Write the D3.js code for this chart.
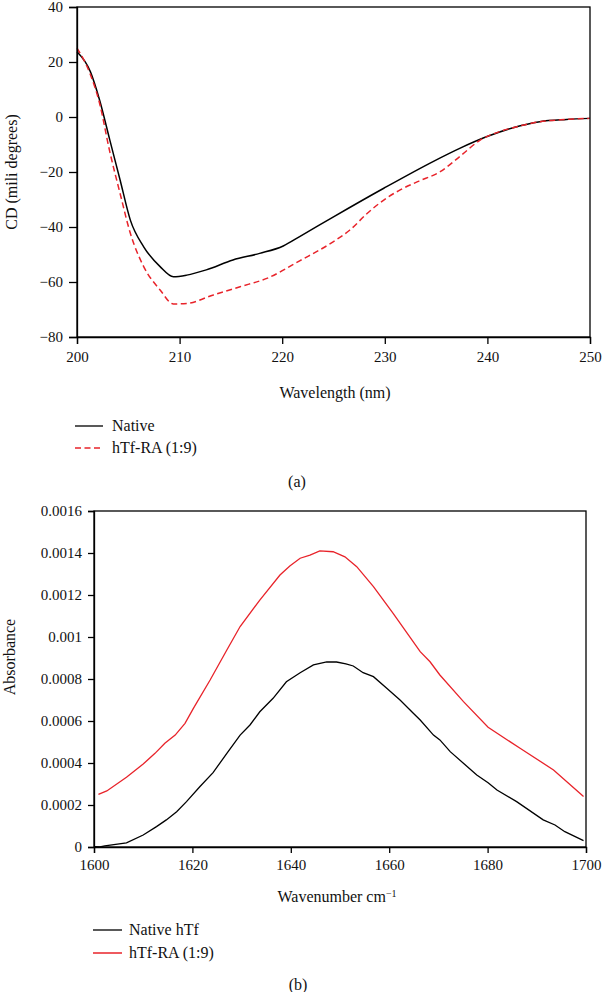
<!DOCTYPE html>
<html>
<head>
<meta charset="utf-8">
<script src="https://cdn.jsdelivr.net/npm/d3@7"></script>
<style>
  body { margin: 0; background: #fff; }
  svg { display: block; font-family: "Liberation Serif", "DejaVu Serif", serif; }
  svg text { font-family: "Liberation Serif", "DejaVu Serif", serif; }
</style>
</head>
<body>
<svg id="chart" width="602" height="992"></svg>
<script>
// ---------- Data: panel (a) CD spectra ----------
const cdWavelength = [200, 201.3, 202.2, 203.2, 204.2, 205.2, 206.5, 208.1, 209.4, 210.7, 212.6, 215.2, 217.8, 220.1, 221.7, 225, 229.9, 234.7, 237.3, 239.9, 242.5, 245.1, 247.7, 250];
const cdNative    = [23.7, 16.5, 6.2, -8.4, -22.9, -37.5, -47.2, -54.4, -58.1, -57.5, -55.6, -52, -49.6, -46.9, -43.5, -36.3, -25.9, -16.2, -11.4, -7.2, -3.9, -1.7, -0.9, -0.5];
const cdRAWavelength = [200, 201.3, 202.2, 203.2, 204.2, 205.2, 206.5, 208.1, 209.4, 210.7, 213.3, 215.9, 218.5, 221.7, 225, 226.6, 228.3, 229.9, 231.5, 233.2, 235.4, 237.3, 239.3, 241.2, 242.5, 245.1, 247.7, 250];
const cdRA        = [25, 15.5, 5, -12.7, -27.8, -42.3, -54.4, -62.9, -68, -67.8, -64.7, -61.7, -58.7, -52.3, -45.3, -41.1, -35, -30.2, -26.5, -23.5, -19.9, -14.4, -8.4, -5.3, -3.9, -1.7, -0.9, -0.5];
const cdXTicks = [200, 210, 220, 230, 240, 250];
const cdYTicks = [-80, -60, -40, -20, 0, 20, 40];
const cdLegend = ["Native", "hTf-RA (1:9)"];

// ---------- Data: panel (b) FTIR absorbance ----------
const irWavenumberNative = [1600, 1601.2, 1602.2, 1606.6, 1610, 1612.7, 1614.7, 1616.8, 1618.8, 1621.5, 1624.2, 1627, 1629.7, 1631.7, 1633.7, 1636.4, 1639.1, 1641.9, 1644.6, 1647.3, 1649.3, 1651.2, 1652.7, 1654.7, 1656.8, 1659.5, 1662.2, 1664.9, 1666.3, 1669, 1670.3, 1672.4, 1677.8, 1680.1, 1681.9, 1685.9, 1691.3, 1693.7, 1695.7, 1699.5];
const irNative = [0.000002, 0, 0.000005, 0.00002, 0.000057, 0.000097, 0.000129, 0.000168, 0.000216, 0.000287, 0.000354, 0.000446, 0.000533, 0.000581, 0.000644, 0.000708, 0.000787, 0.00083, 0.000867, 0.000881, 0.000881, 0.000872, 0.000862, 0.00083, 0.000811, 0.000756, 0.0007, 0.000637, 0.000605, 0.000533, 0.00051, 0.000454, 0.000343, 0.000306, 0.000271, 0.000216, 0.000129, 0.000105, 0.000073, 0.00003];
const irWavenumberRA = [1600.9, 1602.6, 1606.6, 1610, 1612.4, 1614.4, 1616.5, 1618.5, 1620.2, 1623.6, 1627, 1629.7, 1633.7, 1637.8, 1639.8, 1641.9, 1643.9, 1645.9, 1648.6, 1651, 1653.4, 1656.8, 1660.8, 1666.3, 1668.3, 1670.3, 1675.1, 1680.1, 1686.6, 1693.4, 1699.5];
const irRA = [0.000251, 0.000267, 0.000332, 0.000395, 0.000446, 0.000494, 0.000533, 0.000589, 0.00066, 0.000795, 0.000938, 0.00105, 0.001176, 0.001295, 0.001338, 0.001375, 0.00139, 0.00141, 0.001406, 0.001382, 0.001335, 0.00124, 0.001113, 0.00093, 0.000882, 0.000819, 0.000692, 0.00057, 0.00047, 0.000367, 0.00024];
const irXTicks = [1600, 1620, 1640, 1660, 1680, 1700];
const irYTicks = [0, 0.0002, 0.0004, 0.0006, 0.0008, 0.001, 0.0012, 0.0014, 0.0016];
const irYTickLabels = ["0", "0.0002", "0.0004", "0.0006", "0.0008", "0.001", "0.0012", "0.0014", "0.0016"];
const irLegend = ["Native hTf", "hTf-RA (1:9)"];

const RED = "#e8232a";
const svg = d3.select("#chart");
const FS = 15;     // tick labels
const FT = 16;     // titles / legend

// ================= Panel (a) =================
{
  const L = 77, T = 7, W = 513, H = 330;
  const x = d3.scaleLinear().domain([200, 250]).range([L, L + W]);
  const y = d3.scaleLinear().domain([-80, 40]).range([T + H, T]);
  const g = svg.append("g");

  const line = d3.line().curve(d3.curveMonotoneX);
  g.append("path")
    .attr("d", line.x(d => x(d[0])).y(d => y(d[1]))(cdWavelength.map((w, i) => [w, cdNative[i]])))
    .attr("fill", "none").attr("stroke", "#000").attr("stroke-width", 1.5);
  g.append("path")
    .attr("d", line.x(d => x(d[0])).y(d => y(d[1]))(cdRAWavelength.map((w, i) => [w, cdRA[i]])))
    .attr("fill", "none").attr("stroke", RED).attr("stroke-width", 1.5).attr("stroke-dasharray", "6,3.5");

  g.append("rect").attr("x", L).attr("y", T).attr("width", W).attr("height", H)
    .attr("fill", "none").attr("stroke", "#000").attr("stroke-width", 1.3);

  const xa = g.append("g").attr("transform", `translate(0,${T + H})`)
    .call(d3.axisBottom(x).tickValues(cdXTicks).tickSize(7).tickPadding(7).tickFormat(d3.format("d")));
  const ya = g.append("g").attr("transform", `translate(${L},0)`)
    .call(d3.axisLeft(y).tickValues(cdYTicks).tickSize(8).tickPadding(6).tickFormat(d => d < 0 ? "\u2212" + Math.abs(d) : String(d)));
  [xa, ya].forEach(a => {
    a.attr("font-family", null);
    a.select(".domain").attr("stroke-width", 1.3);
    a.selectAll(".tick line").attr("stroke-width", 1.3);
    a.selectAll("text").attr("font-size", FS).attr("fill", "#111");
  });

  g.append("text").attr("x", 335).attr("y", 398).attr("text-anchor", "middle")
    .attr("font-size", FT).attr("fill", "#111").text("Wavelength (nm)");
  g.append("text").attr("transform", "translate(17,172) rotate(-90)").attr("text-anchor", "middle")
    .attr("font-size", FT).attr("fill", "#111").text("CD (mili degrees)");

  cdLegend.forEach((name, i) => {
    const ly = 426 + i * 22;
    g.append("line").attr("x1", 75).attr("x2", 103).attr("y1", ly).attr("y2", ly)
      .attr("stroke", i === 0 ? "#222" : RED).attr("stroke-width", 1.5)
      .attr("stroke-dasharray", i === 0 ? null : "6,3.5");
    g.append("text").attr("x", 112).attr("y", ly + 5).attr("font-size", FT).attr("fill", "#111").text(name);
  });

  g.append("text").attr("x", 297).attr("y", 487).attr("text-anchor", "middle")
    .attr("font-size", FT).attr("fill", "#111").text("(a)");
}

// ================= Panel (b) =================
{
  const L = 94, T = 511, W = 492, H = 336;
  const x = d3.scaleLinear().domain([1600, 1700]).range([L, L + W]);
  const y = d3.scaleLinear().domain([0, 0.0016]).range([T + H, T]);
  const g = svg.append("g");

  const line = d3.line().x(d => x(d[0])).y(d => y(d[1]));
  g.append("path")
    .attr("d", line(irWavenumberRA.map((w, i) => [w, irRA[i]])))
    .attr("fill", "none").attr("stroke", RED).attr("stroke-width", 1.3);
  g.append("path")
    .attr("d", line(irWavenumberNative.map((w, i) => [w, irNative[i]])))
    .attr("fill", "none").attr("stroke", "#000").attr("stroke-width", 1.3);

  g.append("rect").attr("x", L).attr("y", T).attr("width", W).attr("height", H)
    .attr("fill", "none").attr("stroke", "#000").attr("stroke-width", 1.3);

  const xa = g.append("g").attr("transform", `translate(0,${T + H})`)
    .call(d3.axisBottom(x).tickValues(irXTicks).tickSize(6).tickPadding(6).tickFormat(d3.format("d")));
  const ya = g.append("g").attr("transform", `translate(${L},0)`)
    .call(d3.axisLeft(y).tickValues(irYTicks).tickSize(6).tickPadding(6).tickFormat((d, i) => irYTickLabels[i]));
  [xa, ya].forEach(a => {
    a.attr("font-family", null);
    a.select(".domain").attr("stroke-width", 1.3);
    a.selectAll(".tick line").attr("stroke-width", 1.3);
    a.selectAll("text").attr("font-size", FS).attr("fill", "#111");
  });

  const t = g.append("text").attr("x", 337).attr("y", 902).attr("text-anchor", "middle")
    .attr("font-size", FT).attr("fill", "#111");
  t.append("tspan").text("Wavenumber cm");
  t.append("tspan").attr("font-size", 10).attr("dy", -5).text("\u22121");

  g.append("text").attr("transform", "translate(15,657) rotate(-90)").attr("text-anchor", "middle")
    .attr("font-size", FT).attr("fill", "#111").text("Absorbance");

  irLegend.forEach((name, i) => {
    const ly = 930 + i * 23;
    g.append("line").attr("x1", 93).attr("x2", 122).attr("y1", ly).attr("y2", ly)
      .attr("stroke", i === 0 ? "#222" : RED).attr("stroke-width", 1.5);
    g.append("text").attr("x", 129).attr("y", ly + 5).attr("font-size", FT).attr("fill", "#111").text(name);
  });

  g.append("text").attr("x", 298).attr("y", 990).attr("text-anchor", "middle")
    .attr("font-size", FT).attr("fill", "#111").text("(b)");
}
</script>
</body>
</html>
